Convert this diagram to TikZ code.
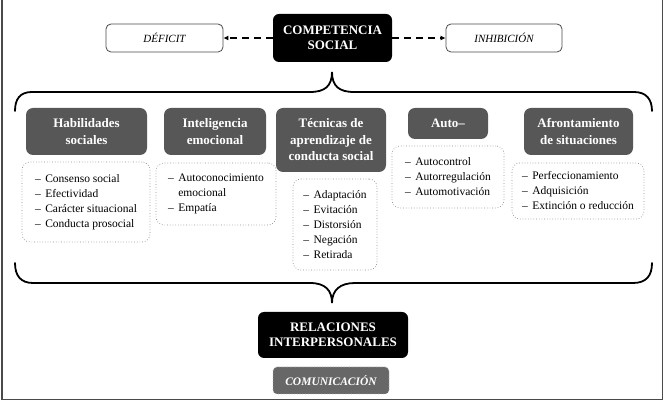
\documentclass[tikz,border=0pt]{standalone}
\usepackage{fontspec}
\setmainfont{Liberation Serif}
\usetikzlibrary{arrows.meta}
\definecolor{headgray}{HTML}{575757}
\definecolor{comgray}{HTML}{676767}
\definecolor{framegray}{HTML}{4A4A4A}
\definecolor{dotgray}{HTML}{8C8C8C}
\newcommand\itm{–\hspace{4.5pt}}
\newcommand\itmind{\phantom{–}\hspace{4.5pt}}
\begin{document}
\begin{tikzpicture}[x=1pt,y=-1pt,
  titlebox/.style={fill=black, rounded corners=6pt, text=white, font=\bfseries\fontsize{13}{15.5}\selectfont, align=center, inner sep=0pt},
  sidebox/.style={draw=framegray, line width=0.8pt, fill=white, rounded corners=5pt, font=\itshape\fontsize{11}{13}\selectfont, inner sep=0pt, minimum height=28pt},
  headbox/.style={fill=headgray, rounded corners=7pt, text=white, font=\bfseries\fontsize{13}{16.5}\selectfont, align=center, inner sep=0pt},
  listbox/.style={draw=dotgray, dotted, line width=0.7pt, fill=white, rounded corners=8pt, font=\fontsize{11.5}{15}\selectfont, align=left, inner sep=0pt},
  dasharrow/.style={line width=1.8pt, dash pattern=on 7pt off 5pt, -{Latex[length=5pt,width=5pt]}},
  bracepath/.style={line width=1.8pt, black, line cap=round}
]
\useasboundingbox (0,0) rectangle (665,403);
% frame
\draw[framegray, line width=1.6pt] (2,0) -- (2,399.5) -- (662.5,399.5) -- (662.5,0);

% top row
\node[titlebox, minimum width=119pt, minimum height=48pt] (comp) at (332.5,38) {COMPETENCIA\\SOCIAL};
\node[sidebox, minimum width=117pt] (def) at (164.5,38) {DÉFICIT};
\node[sidebox, minimum width=116pt] (inh) at (504,38) {INHIBICIÓN};
\draw[dasharrow] (comp.west) -- (def.east);
\draw[dasharrow] (comp.east) -- (inh.west);

% braces
\draw[bracepath] (15,111) .. controls (15,99) and (20,92) .. (32,92) -- (310,92)
  .. controls (325,92) and (332,86) .. (332,72)
  .. controls (332,86) and (339,92) .. (354,92) -- (634,92)
  .. controls (646,92) and (652,99) .. (652,111);
\draw[bracepath] (15,263) .. controls (15,276) and (21,283) .. (33,283) -- (310,283)
  .. controls (325,283) and (332,290) .. (332,303)
  .. controls (332,290) and (340,283) .. (355,283) -- (633,283)
  .. controls (646,283) and (652,276) .. (652,263);

% headers
\node[headbox, minimum width=121pt, minimum height=47pt] (h1) at (86.5,131.5) {Habilidades\\sociales};
\node[headbox, minimum width=102pt, minimum height=47pt] (h2) at (215,131.5) {Inteligencia\\emocional};
\node[headbox, minimum width=110pt, minimum height=64pt] (h3) at (331,140) {Técnicas de\\aprendizaje de\\conducta social};
\node[headbox, minimum width=80pt, minimum height=31pt] (h4) at (448,123.5) {Auto–};
\node[headbox, minimum width=109pt, minimum height=47pt] (h5) at (578.5,131.5) {Afrontamiento\\de situaciones};

% lists
\node[listbox, minimum width=128pt, minimum height=80pt] (l1) at (86,202)
  {\itm Consenso social\\\itm Efectividad\\\itm Carácter situacional\\\itm Conducta prosocial};
\node[listbox, minimum width=120pt, minimum height=62pt] (l2) at (216,194)
  {\itm Autoconocimiento\\\itmind emocional\\\itm Empatía};
\node[listbox, minimum width=84pt, minimum height=91pt] (l3) at (335,224.5)
  {\itm Adaptación\\\itm Evitación\\\itm Distorsión\\\itm Negación\\\itm Retirada};
\node[listbox, minimum width=112pt, minimum height=62pt] (l4) at (448,177)
  {\itm Autocontrol\\\itm Autorregulación\\\itm Automotivación};
\node[listbox, minimum width=132pt, minimum height=56pt] (l5) at (578,191)
  {\itm Perfeccionamiento\\\itm Adquisición\\\itm Extinción o reducción};

% bottom
\node[titlebox, minimum width=150pt, minimum height=46pt] (rel) at (333,335) {RELACIONES\\INTERPERSONALES};
\node[fill=comgray, draw=gray!60, dotted, line width=0.7pt, rounded corners=4pt, text=white, font=\bfseries\itshape\fontsize{11.5}{13}\selectfont, inner sep=0pt, minimum width=116pt, minimum height=27pt] (com) at (331,380.5) {COMUNICACIÓN};
\end{tikzpicture}
\end{document}
